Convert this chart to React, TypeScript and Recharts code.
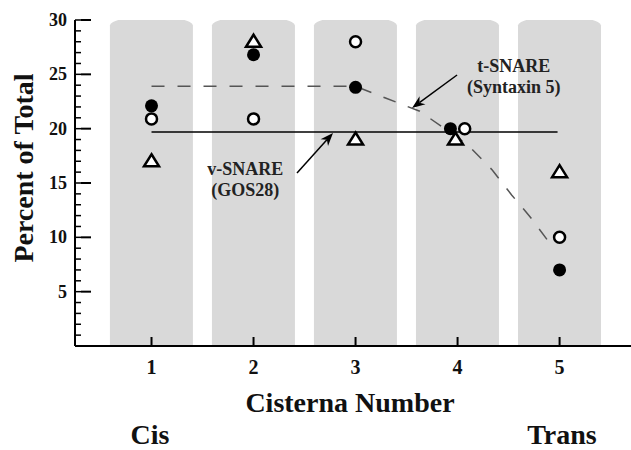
import React from "react";
import {
  ComposedChart, Bar, Line, Scatter, XAxis, YAxis,
  ReferenceLine, ReferenceDot, Customized,
} from "recharts";

const FONT = "'Liberation Serif', 'Times New Roman', serif";

// cisternae (x) and the grey column height
const cisternae = [1, 2, 3, 4, 5];
const columnTop = [29.5, 29.5, 29.5, 29.5, 29.5];

// filled circles
const filledX = [1, 2, 3, 3.93, 5];
const filledY = [22.1, 26.8, 23.8, 20.0, 7.0];
// open circles
const openX = [1, 2, 3, 4.07, 5];
const openY = [20.9, 20.9, 28.0, 20.0, 10.0];
// open triangles
const triX = [1, 2, 3, 3.98, 5];
const triY = [17.0, 28.0, 19.0, 19.0, 16.0];

// t-SNARE dashed trend, v-SNARE solid mean line
const tLineX = [1, 3, 3.3, 3.63, 4.1, 4.34, 4.53, 4.71, 4.94];
const tLineY = [23.9, 23.9, 22.8, 21.6, 18.5, 16.2, 13.9, 11.9, 9.0];
const vLineX = [1, 4.98];
const vLineY = [19.7, 19.7];

const xTicks = [1, 2, 3, 4, 5];
const yTicks = [1, 2, 3, 4, 5, 6, 7, 8, 9, 10, 11, 12, 13, 14, 15, 16, 17, 18, 19, 20,
  21, 22, 23, 24, 25, 26, 27, 28, 29, 30];

const pts = (xs: number[], ys: number[]) => xs.map((x, i) => ({ x, y: ys[i] }));
const columns = cisternae.map((x, i) => ({ x, top: columnTop[i] }));

function Column(props: any) {
  const { x, y, width, height } = props;
  const w = 83;
  const l = x + width / 2 - w / 2;
  const rt = 9, rb = 7;
  const d = `M${l},${y} A${w / 2},${rt} 0 0 1 ${l + w},${y} L${l + w},${y + height} A${w / 2},${rb} 0 0 1 ${l},${y + height} Z`;
  return <path d={d} fill="#d9d9d9" />;
}

const FilledDot = (p: any) => <circle cx={p.cx} cy={p.cy} r={6.5} fill="#000" />;
const OpenDot = (p: any) => (
  <circle cx={p.cx} cy={p.cy} r={5.5} fill="#fff" stroke="#000" strokeWidth={2.5} />
);
const Tri = (p: any) => {
  const { cx, cy } = p;
  return (
    <polygon
      points={`${cx},${cy - 7} ${cx + 7.5},${cy + 5} ${cx - 7.5},${cy + 5}`}
      fill="#fff" stroke="#000" strokeWidth={2.5}
    />
  );
};

const XTick = (p: any) => {
  const { x, y, payload } = p;
  return (
    <text x={x} y={y + 20} textAnchor="middle" fontSize={20} fontWeight="bold" fontFamily={FONT} fill="#111">
      {payload.value}
    </text>
  );
};

// minor ticks come from the axis tickLine; majors get a longer mark and a label
const YTick = (p: any) => {
  const { x, y, payload } = p;
  if (payload.value % 5 !== 0) return <g />;
  return (
    <g>
      <path d={`M${x + 14},${y}H${x + 24}`} stroke="#000" strokeWidth={2} />
      <text x={x} y={y + 6} textAnchor="end" fontSize={18} fontWeight="bold" fontFamily={FONT} fill="#111">
        {payload.value}
      </text>
    </g>
  );
};

const Arrow = (p: any) => {
  const { x1, y1, x2, y2 } = p;
  const a = Math.atan2(y2 - y1, x2 - x1);
  const c = Math.cos(a), s = Math.sin(a);
  const L = 13, W = 5;
  const bx = x2 - L * c, by = y2 - L * s;
  const nx = x2 - L * 0.7 * c, ny = y2 - L * 0.7 * s;
  return (
    <g>
      <line x1={x1} y1={y1} x2={nx} y2={ny} stroke="#000" strokeWidth={1.5} />
      <polygon
        points={`${x2},${y2} ${bx - W * s},${by + W * c} ${nx},${ny} ${bx + W * s},${by - W * c}`}
        fill="#000"
      />
    </g>
  );
};

const Note = (p: any) => {
  const { viewBox, lines } = p;
  const cx = viewBox.x + viewBox.width / 2;
  const cy = viewBox.y + viewBox.height / 2;
  return (
    <text textAnchor="middle" fontSize={18} fontWeight="bold" fontFamily={FONT} fill="#222">
      {lines.map((l: string, i: number) => (
        <tspan key={i} x={cx} y={cy + i * 21}>{l}</tspan>
      ))}
    </text>
  );
};

const Titles = () => (
  <g fontFamily={FONT} fontWeight="bold" fill="#111">
    <text transform="translate(33,168) rotate(-90)" textAnchor="middle" fontSize={28}>Percent of Total</text>
    <text x={350} y={412} textAnchor="middle" fontSize={28}>Cisterna Number</text>
    <text x={150} y={444} textAnchor="middle" fontSize={28}>Cis</text>
    <text x={562} y={444} textAnchor="middle" fontSize={28}>Trans</text>
  </g>
);

export default function App() {
  return (
    <div style={{ position: "absolute", left: 0, top: 0, background: "#fff" }}>
      <ComposedChart width={631} height={450} data={columns}
        margin={{ top: 20, right: 0, bottom: 74, left: 0 }}>
        <Bar dataKey="top" barSize={83} shape={<Column />} isAnimationActive={false} />
        <XAxis dataKey="x" type="number" domain={[0.25, 5.7]} allowDataOverflow ticks={xTicks}
          interval={0} height={30} tickSize={-9} tickMargin={17}
          tickLine={{ stroke: "#000", strokeWidth: 2 }}
          axisLine={{ stroke: "#000", strokeWidth: 2 }} tick={<XTick />} />
        <YAxis type="number" domain={[0, 30]} allowDataOverflow ticks={yTicks} interval={0}
          width={75} tickSize={-6} tickMargin={14}
          tickLine={{ stroke: "#000", strokeWidth: 1.5 }}
          axisLine={{ stroke: "#000", strokeWidth: 2 }} tick={<YTick />} />
        <Line data={pts(vLineX, vLineY)} dataKey="y" type="linear" stroke="#000" strokeWidth={1.4}
          dot={false} activeDot={false} isAnimationActive={false} />
        <Line data={pts(tLineX, tLineY)} dataKey="y" type="linear" stroke="#555" strokeWidth={1.5}
          strokeDasharray="13 13" dot={false} activeDot={false} isAnimationActive={false} />
        <ReferenceLine segment={[{ x: 3.995, y: 24.94 }, { x: 3.554, y: 21.9 }]} shape={Arrow} />
        <ReferenceLine segment={[{ x: 2.426, y: 15.92 }, { x: 2.779, y: 19.6 }]} shape={Arrow} />
        <ReferenceDot x={4.55} y={25.2} r={0} fill="none" stroke="none"
          label={<Note lines={["t-SNARE", "(Syntaxin 5)"]} />} />
        <ReferenceDot x={1.92} y={15.74} r={0} fill="none" stroke="none"
          label={<Note lines={["v-SNARE", "(GOS28)"]} />} />
        <Scatter data={pts(triX, triY)} dataKey="y" shape={<Tri />} isAnimationActive={false} />
        <Scatter data={pts(openX, openY)} dataKey="y" shape={<OpenDot />} isAnimationActive={false} />
        <Scatter data={pts(filledX, filledY)} dataKey="y" shape={<FilledDot />} isAnimationActive={false} />
        <Customized component={<Titles />} />
      </ComposedChart>
    </div>
  );
}
